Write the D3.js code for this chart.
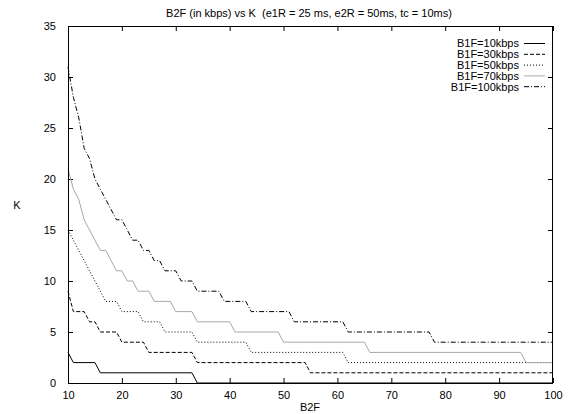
<!DOCTYPE html>
<html><head><meta charset="utf-8">
<script src="https://cdn.jsdelivr.net/npm/d3@7"></script>
<style>
body{margin:0;background:#fff}
svg{display:block}
text{font-family:"Liberation Sans",Arial,Helvetica,sans-serif;font-size:11px;fill:#000;white-space:pre}
</style></head>
<body><svg id="chart" width="568" height="414"></svg>
<script>
// ---- data ----
const titleText = "B2F (in kbps) vs K  (e1R = 25 ms, e2R = 50ms, tc = 10ms)";
const xLabel = "B2F";
const yLabel = "K";
const xTicks = [10, 20, 30, 40, 50, 60, 70, 80, 90, 100];
const yTicks = [0, 5, 10, 15, 20, 25, 30, 35];
const seriesNames = ["B1F=10kbps", "B1F=30kbps", "B1F=50kbps", "B1F=70kbps", "B1F=100kbps"];
// vertices [B2F, K]
const b1f10 = [[10,3],[11,2],[15,2],[16,1],[33,1],[34,0],[100,0]];
const b1f30 = [[10,9],[11,7],[13,7],[14,6],[15,6],[16,5],[19,5],[20,4],[24,4],[25,3],[33,3],[34,2],[54,2],[55,1],[100,1]];
const b1f50 = [[10,15],[11,14],[12,13],[13,12],[14,11],[15,10],[16,9],[17,8],[19,8],[20,7],[23,7],[24,6],[27,6],[28,5],[33,5],[34,4],[43,4],[44,3],[61,3],[62,2],[100,2]];
const b1f70 = [[10,21],[11,19],[12,18],[13,16],[14,15],[15,14],[16,13],[17,13],[18,12],[19,11],[20,11],[21,10],[22,10],[23,9],[25,9],[26,8],[29,8],[30,7],[33,7],[34,6],[40,6],[41,5],[49,5],[50,4],[65,4],[66,3],[94,3],[95,2],[100,2]];
const b1f100 = [[10,31],[11,28],[12,26],[13,23],[14,22],[15,20],[16,19],[17,18],[18,17],[19,16],[20,16],[21,15],[22,14],[23,14],[24,13],[25,13],[26,12],[27,12],[28,11],[30,11],[31,10],[33,10],[34,9],[38,9],[39,8],[43,8],[44,7],[51,7],[52,6],[61,6],[62,5],[77,5],[78,4],[100,4]];

// ---- styles ----
const seriesData = [b1f10, b1f30, b1f50, b1f70, b1f100];
const strokes = ["#000", "#000", "#000", "#a8a8a8", "#000"];
const dashes = [null, "4,2", "1,2", null, "5,2,1,2"];

const svg = d3.select("#chart");
const m = {left: 68, right: 553, top: 26, bottom: 383};
const x = d3.scaleLinear().domain([10, 100]).range([m.left, m.right]);
const y = d3.scaleLinear().domain([0, 35]).range([m.bottom, m.top]);

svg.append("rect").attr("width", 568).attr("height", 414).attr("fill", "#fff");

// axes (ticks inside, mirrored)
const tl = 5;
svg.append("g").attr("transform", `translate(0,${m.bottom})`)
  .call(d3.axisBottom(x).tickValues(xTicks).tickSizeInner(-tl).tickSizeOuter(0).tickPadding(8))
  .call(g => g.select(".domain").remove());
svg.append("g").attr("transform", `translate(0,${m.top})`)
  .call(d3.axisTop(x).tickValues(xTicks).tickSizeInner(-tl).tickSizeOuter(0).tickFormat(""))
  .call(g => g.select(".domain").remove());
svg.append("g").attr("transform", `translate(${m.left},0)`)
  .call(d3.axisLeft(y).tickValues(yTicks).tickSizeInner(-tl).tickSizeOuter(0).tickPadding(12))
  .call(g => g.select(".domain").remove());
svg.append("g").attr("transform", `translate(${m.right},0)`)
  .call(d3.axisRight(y).tickValues(yTicks).tickSizeInner(-tl).tickSizeOuter(0).tickFormat(""))
  .call(g => g.select(".domain").remove());
svg.selectAll(".tick text").attr("font-family", null).attr("font-size", null).attr("fill", "#000");
svg.selectAll(".tick line").attr("stroke", "#000");

// series
const line = d3.line().x(d => x(d[0])).y(d => y(d[1]));
seriesData.forEach((s, i) => {
  svg.append("path").datum(s).attr("d", line).attr("fill", "none")
    .attr("stroke", strokes[i]).attr("stroke-width", 1)
    .attr("stroke-dasharray", dashes[i]);
});

// frame
svg.append("rect").attr("x", m.left + 0.5).attr("y", m.top + 0.5)
  .attr("width", m.right - m.left - 1).attr("height", m.bottom - m.top)
  .attr("fill", "none").attr("stroke", "#000").attr("stroke-width", 1);

// legend
seriesNames.forEach((n, i) => {
  const yy = 43.5 + i * 10.8;
  svg.append("text").attr("x", 519).attr("y", yy).attr("dy", "0.35em")
    .attr("text-anchor", "end").text(n);
  svg.append("line").attr("x1", 524).attr("x2", 545).attr("y1", yy).attr("y2", yy)
    .attr("stroke", strokes[i]).attr("stroke-width", 1).attr("stroke-dasharray", dashes[i]);
});

// titles
svg.append("text").attr("x", 309).attr("y", 17).attr("text-anchor", "middle")
  .attr("font-size", "10.6px").text(titleText);
svg.append("text").attr("x", 310).attr("y", 411).attr("text-anchor", "middle").text(xLabel);
svg.append("text").attr("x", 17).attr("y", 205).attr("dy", "0.35em").attr("text-anchor", "middle").text(yLabel);
</script></body></html>
